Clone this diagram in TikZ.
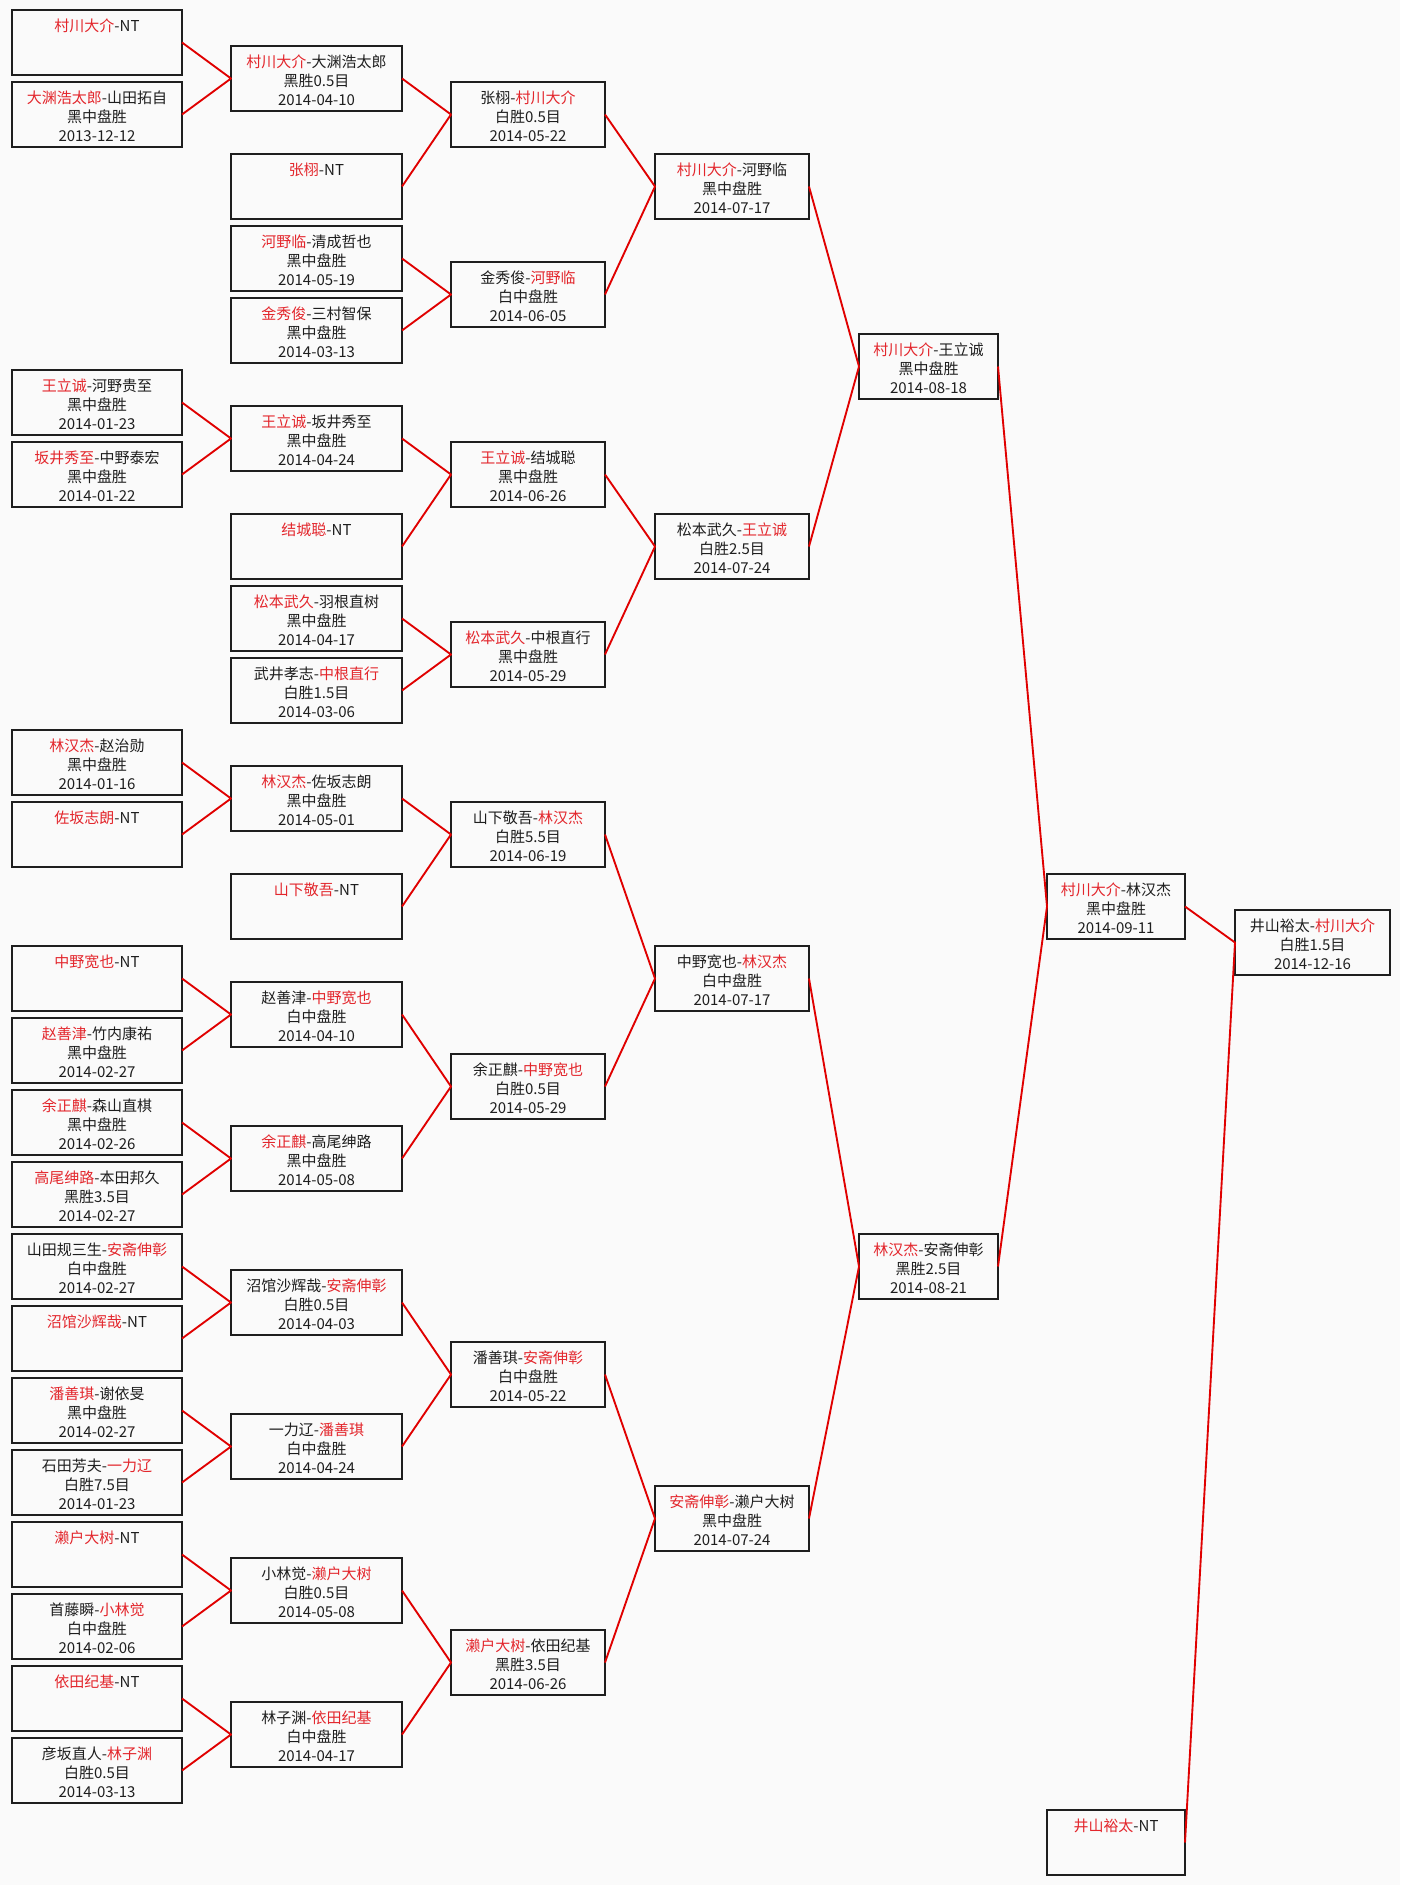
\documentclass[tikz,border=0pt]{standalone}
\usepackage{fontspec}
\setmainfont{Noto Sans CJK SC}
\definecolor{hong}{HTML}{E3262C}
\definecolor{xian}{HTML}{E00000}
\definecolor{hei}{HTML}{1E1E1E}
\definecolor{dise}{HTML}{FAFAFA}
\tikzset{
  kuang/.style={draw=hei,line width=2.1pt,inner sep=0pt,outer sep=0pt,minimum height=65*0.03cm,anchor=north west},
  wenzi/.style={hei,inner sep=0pt,anchor=north,align=center,font=\fontsize{12.8pt}{16.2pt}\selectfont},
  lian/.style={xian,line width=1.6pt,line join=round},
}
\newcommand\ying[1]{\textcolor{hong}{#1}}
\newcommand\dui[5]{%
  \node[kuang,minimum width=#4*0.03cm] (#1) at (#2,{10+36*#3}) {};
  \node[wenzi,yshift=-7.3pt] (#1t) at (#1.north) {#5};
}
\begin{document}
\begin{tikzpicture}[x=0.03cm,y=-0.03cm]
  \useasboundingbox (0,0) rectangle (1400,1885);
  \fill[dise] (0,0) rectangle (1400,1885);
  % erste Runde
  \dui{a1}{12}{0}{170}{\ying{村川大介}-NT}
  \dui{a2}{12}{2}{170}{\ying{大渊浩太郎}-山田拓自\\黑中盘胜\\2013-12-12}
  \dui{a3}{12}{10}{170}{\ying{王立诚}-河野贵至\\黑中盘胜\\2014-01-23}
  \dui{a4}{12}{12}{170}{\ying{坂井秀至}-中野泰宏\\黑中盘胜\\2014-01-22}
  \dui{a5}{12}{20}{170}{\ying{林汉杰}-赵治勋\\黑中盘胜\\2014-01-16}
  \dui{a6}{12}{22}{170}{\ying{佐坂志朗}-NT}
  \dui{a7}{12}{26}{170}{\ying{中野宽也}-NT}
  \dui{a8}{12}{28}{170}{\ying{赵善津}-竹内康祐\\黑中盘胜\\2014-02-27}
  \dui{a9}{12}{30}{170}{\ying{余正麒}-森山直棋\\黑中盘胜\\2014-02-26}
  \dui{a10}{12}{32}{170}{\ying{高尾绅路}-本田邦久\\黑胜3.5目\\2014-02-27}
  \dui{a11}{12}{34}{170}{山田规三生-\ying{安斋伸彰}\\白中盘胜\\2014-02-27}
  \dui{a12}{12}{36}{170}{\ying{沼馆沙辉哉}-NT}
  \dui{a13}{12}{38}{170}{\ying{潘善琪}-谢依旻\\黑中盘胜\\2014-02-27}
  \dui{a14}{12}{40}{170}{石田芳夫-\ying{一力辽}\\白胜7.5目\\2014-01-23}
  \dui{a15}{12}{42}{170}{\ying{濑户大树}-NT}
  \dui{a16}{12}{44}{170}{首藤瞬-\ying{小林觉}\\白中盘胜\\2014-02-06}
  \dui{a17}{12}{46}{170}{\ying{依田纪基}-NT}
  \dui{a18}{12}{48}{170}{彦坂直人-\ying{林子渊}\\白胜0.5目\\2014-03-13}
  % zweite Runde
  \dui{b1}{231}{1}{171}{\ying{村川大介}-大渊浩太郎\\黑胜0.5目\\2014-04-10}
  \dui{b2}{231}{4}{171}{\ying{张栩}-NT}
  \dui{b3}{231}{6}{171}{\ying{河野临}-清成哲也\\黑中盘胜\\2014-05-19}
  \dui{b4}{231}{8}{171}{\ying{金秀俊}-三村智保\\黑中盘胜\\2014-03-13}
  \dui{b5}{231}{11}{171}{\ying{王立诚}-坂井秀至\\黑中盘胜\\2014-04-24}
  \dui{b6}{231}{14}{171}{\ying{结城聪}-NT}
  \dui{b7}{231}{16}{171}{\ying{松本武久}-羽根直树\\黑中盘胜\\2014-04-17}
  \dui{b8}{231}{18}{171}{武井孝志-\ying{中根直行}\\白胜1.5目\\2014-03-06}
  \dui{b9}{231}{21}{171}{\ying{林汉杰}-佐坂志朗\\黑中盘胜\\2014-05-01}
  \dui{b10}{231}{24}{171}{\ying{山下敬吾}-NT}
  \dui{b11}{231}{27}{171}{赵善津-\ying{中野宽也}\\白中盘胜\\2014-04-10}
  \dui{b12}{231}{31}{171}{\ying{余正麒}-高尾绅路\\黑中盘胜\\2014-05-08}
  \dui{b13}{231}{35}{171}{沼馆沙辉哉-\ying{安斋伸彰}\\白胜0.5目\\2014-04-03}
  \dui{b14}{231}{39}{171}{一力辽-\ying{潘善琪}\\白中盘胜\\2014-04-24}
  \dui{b15}{231}{43}{171}{小林觉-\ying{濑户大树}\\白胜0.5目\\2014-05-08}
  \dui{b16}{231}{47}{171}{林子渊-\ying{依田纪基}\\白中盘胜\\2014-04-17}
  % dritte Runde
  \dui{c1}{451}{2}{154}{张栩-\ying{村川大介}\\白胜0.5目\\2014-05-22}
  \dui{c2}{451}{7}{154}{金秀俊-\ying{河野临}\\白中盘胜\\2014-06-05}
  \dui{c3}{451}{12}{154}{\ying{王立诚}-结城聪\\黑中盘胜\\2014-06-26}
  \dui{c4}{451}{17}{154}{\ying{松本武久}-中根直行\\黑中盘胜\\2014-05-29}
  \dui{c5}{451}{22}{154}{山下敬吾-\ying{林汉杰}\\白胜5.5目\\2014-06-19}
  \dui{c6}{451}{29}{154}{余正麒-\ying{中野宽也}\\白胜0.5目\\2014-05-29}
  \dui{c7}{451}{37}{154}{潘善琪-\ying{安斋伸彰}\\白中盘胜\\2014-05-22}
  \dui{c8}{451}{45}{154}{\ying{濑户大树}-依田纪基\\黑胜3.5目\\2014-06-26}
  % Viertelfinale
  \dui{d1}{655}{4}{154}{\ying{村川大介}-河野临\\黑中盘胜\\2014-07-17}
  \dui{d2}{655}{14}{154}{松本武久-\ying{王立诚}\\白胜2.5目\\2014-07-24}
  \dui{d3}{655}{26}{154}{中野宽也-\ying{林汉杰}\\白中盘胜\\2014-07-17}
  \dui{d4}{655}{41}{154}{\ying{安斋伸彰}-濑户大树\\黑中盘胜\\2014-07-24}
  % Halbfinale
  \dui{e1}{859}{9}{139}{\ying{村川大介}-王立诚\\黑中盘胜\\2014-08-18}
  \dui{e2}{859}{34}{139}{\ying{林汉杰}-安斋伸彰\\黑胜2.5目\\2014-08-21}
  % Finale
  \dui{f1}{1047}{24}{138}{\ying{村川大介}-林汉杰\\黑中盘胜\\2014-09-11}
  \dui{f2}{1047}{50}{138}{\ying{井山裕太}-NT}
  \dui{g1}{1235}{25}{155}{井山裕太-\ying{村川大介}\\白胜1.5目\\2014-12-16}
  % Linien
  \draw[lian] (a1.east) -- (b1.west) -- (a2.east);
  \draw[lian] (a3.east) -- (b5.west) -- (a4.east);
  \draw[lian] (a5.east) -- (b9.west) -- (a6.east);
  \draw[lian] (a7.east) -- (b11.west) -- (a8.east);
  \draw[lian] (a9.east) -- (b12.west) -- (a10.east);
  \draw[lian] (a11.east) -- (b13.west) -- (a12.east);
  \draw[lian] (a13.east) -- (b14.west) -- (a14.east);
  \draw[lian] (a15.east) -- (b15.west) -- (a16.east);
  \draw[lian] (a17.east) -- (b16.west) -- (a18.east);
  \draw[lian] (b1.east) -- (c1.west) -- (b2.east);
  \draw[lian] (b3.east) -- (c2.west) -- (b4.east);
  \draw[lian] (b5.east) -- (c3.west) -- (b6.east);
  \draw[lian] (b7.east) -- (c4.west) -- (b8.east);
  \draw[lian] (b9.east) -- (c5.west) -- (b10.east);
  \draw[lian] (b11.east) -- (c6.west) -- (b12.east);
  \draw[lian] (b13.east) -- (c7.west) -- (b14.east);
  \draw[lian] (b15.east) -- (c8.west) -- (b16.east);
  \draw[lian] (c1.east) -- (d1.west) -- (c2.east);
  \draw[lian] (c3.east) -- (d2.west) -- (c4.east);
  \draw[lian] (c5.east) -- (d3.west) -- (c6.east);
  \draw[lian] (c7.east) -- (d4.west) -- (c8.east);
  \draw[lian] (d1.east) -- (e1.west) -- (d2.east);
  \draw[lian] (d3.east) -- (e2.west) -- (d4.east);
  \draw[lian] (e1.east) -- (f1.west) -- (e2.east);
  \draw[lian] (f1.east) -- (g1.west) -- (f2.east);
\end{tikzpicture}
\end{document}
